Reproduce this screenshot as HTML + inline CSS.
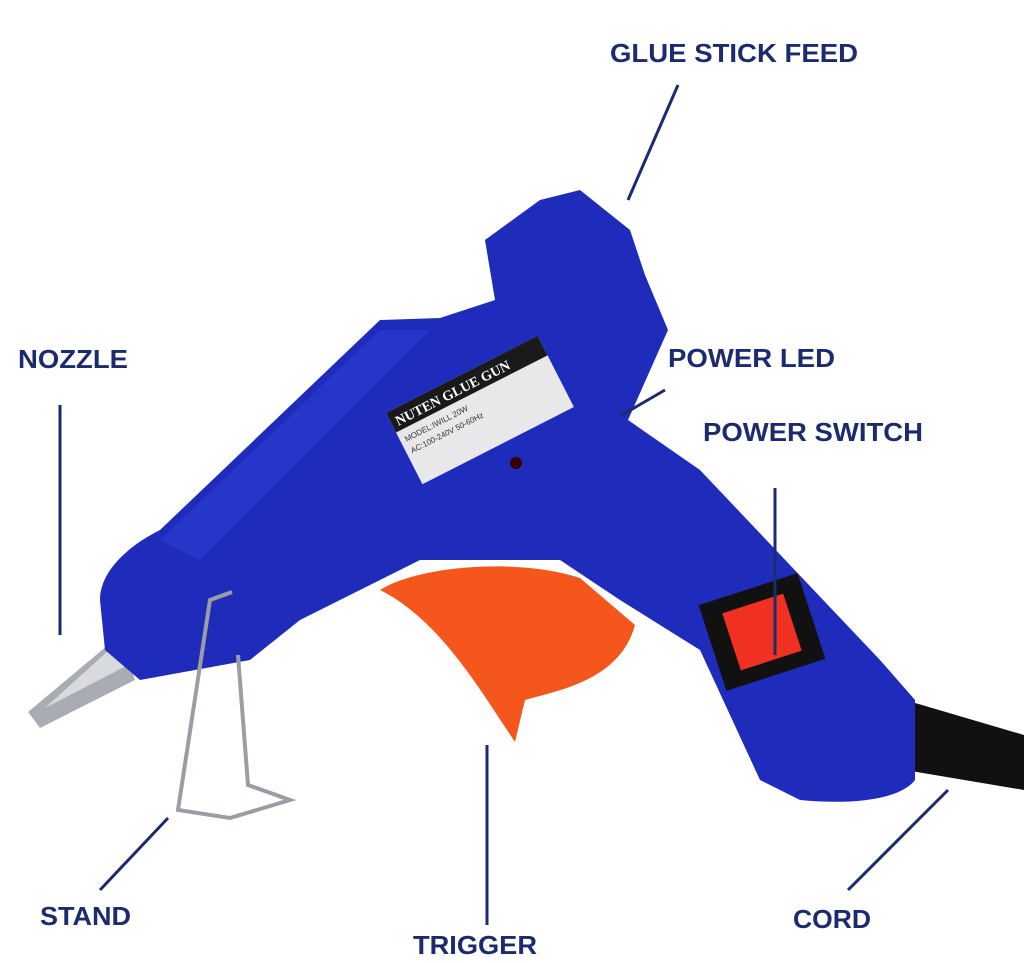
<!DOCTYPE html>
<html><head><meta charset="utf-8">
<style>
html,body{margin:0;padding:0;background:#fff;width:1024px;height:963px;overflow:hidden}
svg{display:block}
text{font-family:"Liberation Sans",sans-serif;font-weight:bold;font-size:26px;fill:#1c2a6e}
</style></head><body>
<svg width="1024" height="963" viewBox="0 0 1024 963">
<rect width="1024" height="963" fill="#fff"/>
<path d="M905,700 L1024,735 L1024,790 L905,770 Z" fill="#111"/>
<path d="M120,635 L135,680 L40,728 L28,712 Z" fill="#a9adb3"/>
<path d="M120,640 L128,665 L45,708 Z" fill="#d8dade"/>
<path d="M500,270 L525,280 L520,310 L495,305 Z" fill="#f2521d"/>
<path d="M430,330 L470,325 L465,355 L432,355 Z" fill="#f2521d"/>
<path d="M100,600 C100,570 130,545 160,530 L380,320 L440,318 L495,300 L485,240 L540,200 L580,190 L630,230 L645,275 L668,330 L628,420 L700,470 L880,660 L915,700 L915,780 C900,800 850,805 800,800 L760,780 L700,650 L620,600 L560,560 L420,560 L300,620 L250,660 L140,680 L105,650 Z" fill="#1f2cbb"/>
<path d="M160,540 L380,330 L430,330 L200,560 Z" fill="#2c40d6" opacity="0.5"/>
<path d="M380,590 C420,565 520,558 580,578 L635,625 C620,680 560,690 525,700 L515,742 C480,690 440,620 380,590 Z" fill="#f4561c"/>
<g transform="translate(480,410) rotate(-27)">
<rect x="-85" y="-40" width="170" height="80" fill="#e8e8ea"/>
<rect x="-85" y="-40" width="170" height="22" fill="#1a1a1a"/>
<text x="-80" y="-23" style="font-size:14px;fill:#fff;font-family:'Liberation Serif',serif">NUTEN GLUE GUN</text>
<text x="-80" y="-5" style="font-size:8px;fill:#333;font-weight:normal">MODEL:IWILL 20W</text>
<text x="-80" y="8" style="font-size:8px;fill:#333;font-weight:normal">AC:100-240V 50-60Hz</text>
</g>
<circle cx="516" cy="463" r="6" fill="#300"/>
<g transform="translate(762,632) rotate(-18)">
<rect x="-52" y="-45" width="104" height="90" fill="#111"/>
<rect x="-32" y="-30" width="64" height="60" fill="#f03020"/>
</g>
<polyline points="232,592 210,600 178,810 230,818 290,800 248,785 238,655" fill="none" stroke="#9a9ea4" stroke-width="4"/>
<g stroke="#1c2a6e" stroke-width="3">
<line x1="678" y1="85" x2="628" y2="200"/>
<line x1="60" y1="405" x2="60" y2="635"/>
<line x1="665" y1="390" x2="622" y2="415"/>
<line x1="775" y1="488" x2="775" y2="655"/>
<line x1="168" y1="818" x2="100" y2="890"/>
<line x1="487" y1="745" x2="487" y2="925"/>
<line x1="948" y1="790" x2="848" y2="890"/>
</g>
<text x="610" y="62" textLength="248" lengthAdjust="spacingAndGlyphs">GLUE STICK FEED</text>
<text x="18" y="368" textLength="110" lengthAdjust="spacingAndGlyphs">NOZZLE</text>
<text x="668" y="367" textLength="167" lengthAdjust="spacingAndGlyphs">POWER LED</text>
<text x="703" y="441" textLength="220" lengthAdjust="spacingAndGlyphs">POWER SWITCH</text>
<text x="40" y="925" textLength="91" lengthAdjust="spacingAndGlyphs">STAND</text>
<text x="413" y="954" textLength="124" lengthAdjust="spacingAndGlyphs">TRIGGER</text>
<text x="793" y="928" textLength="78" lengthAdjust="spacingAndGlyphs">CORD</text>
</svg>
</body></html>
